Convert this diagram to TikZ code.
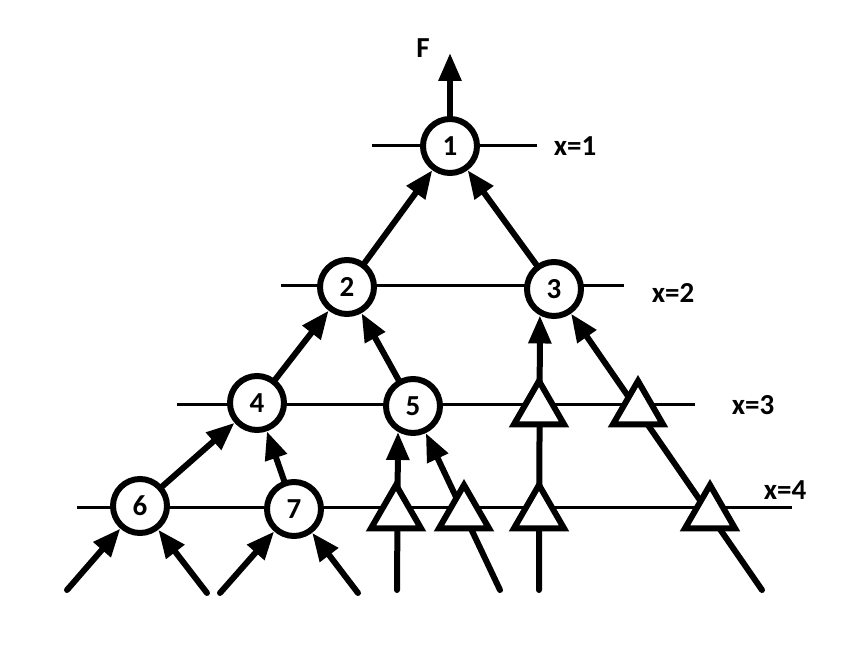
\documentclass[tikz,border=0pt]{standalone}
\usepackage{fontspec}
\setmainfont{Carlito}
\usetikzlibrary{arrows.meta,shapes.geometric,backgrounds}

\tikzset{
  state/.style={shape=circle,draw=black,line width=6pt,fill=white,minimum size=54pt,inner sep=0pt},
  amp/.style={regular polygon,regular polygon sides=3,draw=black,line width=6pt,fill=white,minimum size=58pt,inner sep=0pt},
  flow/.style={line width=6pt,line cap=round,-{Triangle[length=28pt,width=22pt]}},
  level/.style={line width=3pt}
}

\begin{document}
\begin{tikzpicture}[x=1pt,y=1pt,font=\fontsize{29}{32}\selectfont\bfseries]
    \useasboundingbox (0,0) rectangle (855,645);

    \node[state] (n1) at (450,499) {1};
    \node[state] (n2) at (347,358) {2};
    \node[state] (n3) at (554,356) {3};
    \node[state] (n4) at (257,242) {4};
    \node[state] (n5) at (413,239) {5};
    \node[state] (n6) at (140,139) {6};
    \node[state] (n7) at (294,136) {7};

    \node[amp] (t3a) at (539,235) {};
    \node[amp] (t3b) at (638,235) {};
    \node[amp] (t4a) at (396,131) {};
    \node[amp] (t4b) at (464,131) {};
    \node[amp] (t4c) at (539,131) {};
    \node[amp] (t4d) at (710,131) {};

    \coordinate (b1) at (67,55);
    \coordinate (b2) at (207,52);
    \coordinate (b3) at (220,52);
    \coordinate (b4) at (358,52);
    \coordinate (b5) at (397,55);
    \coordinate (b6) at (500,55);
    \coordinate (b7) at (539,55);
    \coordinate (b8) at (762,55);
    \coordinate (top) at (450,592);

    \node (lf) at (423,597) {F};
    \node (lx1) at (575,499) {x=1};
    \node (lx2) at (673,352) {x=2};
    \node (lx3) at (753,240) {x=3};
    \node (lx4) at (785,155) {x=4};

    \begin{pgfonlayer}{background}
    \foreach \y/\xa/\xb in {499/372/537, 359/281/624, 240/177/695, 137/77/792}
        \draw[level] (\xa,\y) -- (\xb,\y);

    \path [flow] (n1) edge (top);
    \path [flow] (n2) edge (n1);
    \path [flow] (n3) edge (n1);
    \path [flow] (n4) edge (n2);
    \path [flow] (n5) edge (n2);
    \path [flow] (n6) edge (n4);
    \path [flow] (n7) edge (n4);
    \path [flow] (b1) edge (n6);
    \path [flow] (b2) edge (n6);
    \path [flow] (b3) edge (n7);
    \path [flow] (b4) edge (n7);
    \path [flow] (b5) edge (n5.240);
    \path [flow] (b6) edge (n5);
    \path [flow] (b7) edge (n3.242);
    \path [flow] (b8) edge (n3);
    \end{pgfonlayer}
\end{tikzpicture}
\end{document}
